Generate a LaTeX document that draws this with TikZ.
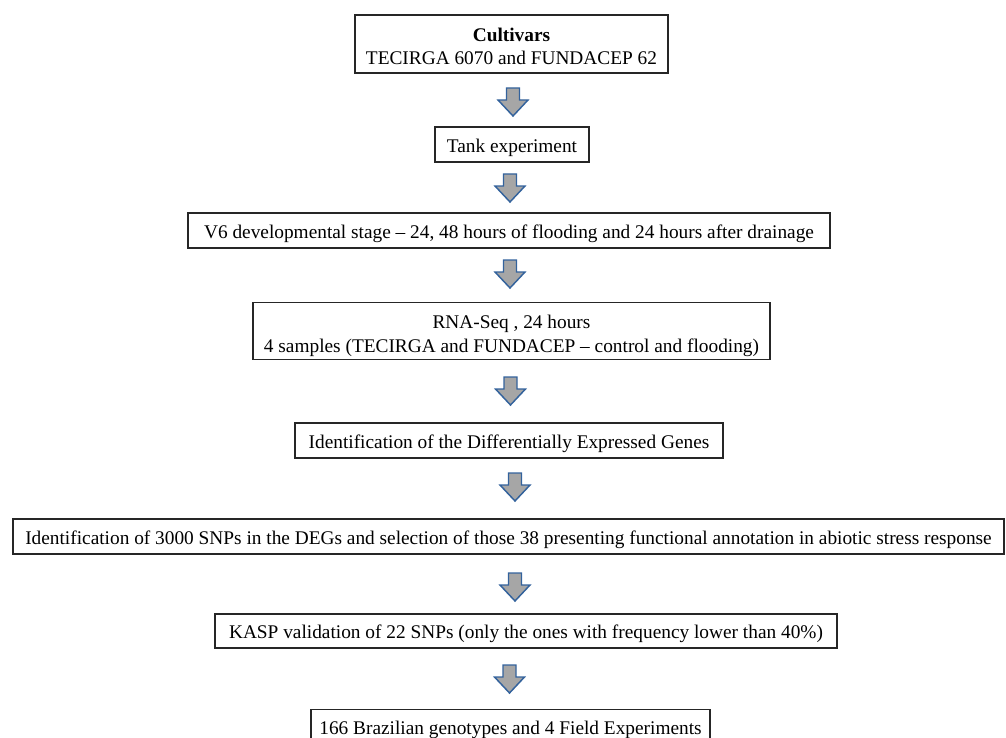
\documentclass[tikz,border=0pt]{standalone}
\usepackage{fontspec}
\setmainfont{Liberation Serif}
\usepackage{tikz}
\usetikzlibrary{positioning}
\definecolor{arrowblue}{HTML}{33629C}
\definecolor{arrowgray}{HTML}{A6A6A6}
\newcommand{\lift}[1]{\rule{0pt}{#1}}

\begin{document}
\begin{tikzpicture}[
    x=0.75pt, y=-0.75pt,
    stepbox/.style = {rectangle, draw=black!85, line width=0.9pt, fill=white,
                      align=center, inner sep=0pt,
                      execute at begin node={\lift{1.02em}},
                      font=\fontsize{14.5pt}{17.5pt}\selectfont},
    downarrow/.pic = {\draw[draw=arrowblue, fill=arrowgray, line width=1.1pt, line join=miter]
                      (-6.5,0) -- (6.5,0) -- (6.5,12) -- (15,12) -- (0,28)
                      -- (-15,12) -- (-6.5,12) -- cycle;}
  ]
  \useasboundingbox (0,0) rectangle (1006,738);
  \clip (0,0) rectangle (1006,738);

  % Boxes
  \node[stepbox, minimum width=234.75pt, minimum height=43.5pt] (cultivars) at (511.5,44)
    {\lift{0.95em}\textbf{Cultivars}\\TECIRGA 6070 and FUNDACEP 62};
  \node[stepbox, minimum width=115.5pt,  minimum height=26.25pt] (tank) at (512,144.5)
    {Tank experiment};
  \node[stepbox, minimum width=481.5pt,  minimum height=26.25pt] (stage) at (509,230.5)
    {V6 developmental stage – 24, 48 hours of flooding and 24 hours after drainage};
  \node[stepbox, minimum width=387.75pt, minimum height=42.75pt] (rnaseq) at (511.5,331)
    {\lift{1.19em}RNA-Seq , 24 hours\\4 samples (TECIRGA and FUNDACEP – control and flooding)};
  \node[stepbox, minimum width=321pt,    minimum height=26.25pt] (degs) at (509,440.5)
    {Identification of the Differentially Expressed Genes};
  \node[stepbox, minimum width=743.25pt, minimum height=26.25pt] (snps) at (508.5,536.5)
    {Identification of 3000 SNPs in the DEGs and selection of those 38 presenting functional annotation in abiotic stress response};
  \node[stepbox, minimum width=466.5pt,  minimum height=25.5pt] (kasp) at (526,631)
    {KASP validation of 22 SNPs (only the ones with frequency lower than 40\%)};
  \node[stepbox, minimum width=299.25pt, minimum height=26.25pt] (field) at (510.5,727)
    {166 Brazilian genotypes and 4 Field Experiments};

  % Block arrows
  \pic (arrA) at (513,88)    {downarrow};
  \pic (arrB) at (510,174)   {downarrow};
  \pic (arrC) at (510,260)   {downarrow};
  \pic (arrD) at (510.5,377) {downarrow};
  \pic (arrE) at (515,473)   {downarrow};
  \pic (arrF) at (515,573)   {downarrow};
  \pic (arrG) at (509.5,665) {downarrow};
\end{tikzpicture}
\end{document}
